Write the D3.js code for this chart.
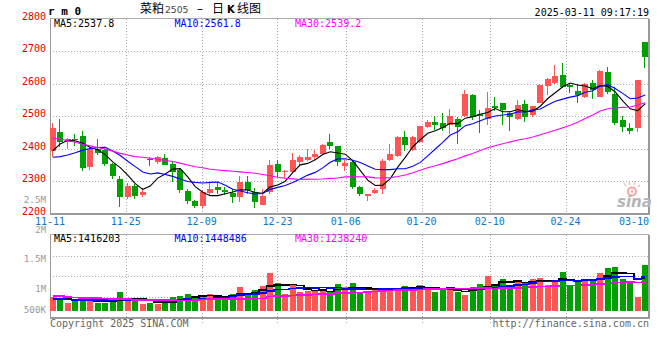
<!DOCTYPE html>
<html><head><meta charset="utf-8">
<script src="https://cdn.jsdelivr.net/npm/d3@7"></script>
<style>body{margin:0;background:#fff}svg{display:block}</style>
</head><body>
<svg id="c" width="660" height="360"></svg>
<script>
const dates = ["2024-11-11","2024-11-12","2024-11-13","2024-11-14","2024-11-15",
"2024-11-18","2024-11-19","2024-11-20","2024-11-21","2024-11-22",
"2024-11-25","2024-11-26","2024-11-27","2024-11-28","2024-11-29",
"2024-12-02","2024-12-03","2024-12-04","2024-12-05","2024-12-06",
"2024-12-09","2024-12-10","2024-12-11","2024-12-12","2024-12-13",
"2024-12-16","2024-12-17","2024-12-18","2024-12-19","2024-12-20",
"2024-12-23","2024-12-24","2024-12-25","2024-12-26","2024-12-27",
"2024-12-30","2024-12-31","2025-01-02","2025-01-03",
"2025-01-06","2025-01-07","2025-01-08","2025-01-09","2025-01-10",
"2025-01-13","2025-01-14","2025-01-15","2025-01-16","2025-01-17",
"2025-01-20","2025-01-21","2025-01-22","2025-01-23","2025-01-24",
"2025-01-27","2025-02-05","2025-02-06","2025-02-07",
"2025-02-10","2025-02-11","2025-02-12","2025-02-13","2025-02-14",
"2025-02-17","2025-02-18","2025-02-19","2025-02-20","2025-02-21",
"2025-02-24","2025-02-25","2025-02-26","2025-02-27","2025-02-28",
"2025-03-03","2025-03-04","2025-03-05","2025-03-06","2025-03-07",
"2025-03-10","2025-03-11"];

const opens = [2393,2452,2420,2430,2438,2344,2400,2395,2351,2307,
2252,2285,2257,2368,2360,2372,2353,2334,2270,2238,
2224,2262,2281,2271,2264,2252,2298,2267,2227,2265,
2353,2327,2327,2360,2365,2373,2383,2420,2408,2347,
2360,2283,2255,2262,2275,2365,2377,2434,2395,2421,
2465,2483,2477,2472,2490,2500,2565,2506,2492,2532,
2539,2510,2490,2536,2502,2540,2593,2602,2625,2595,
2577,2557,2602,2559,2636,2567,2487,2462,2462,2729];
const highs = [2477,2490,2433,2446,2455,2405,2429,2400,2354,2316,
2293,2291,2277,2375,2378,2383,2359,2339,2276,2243,
2271,2293,2296,2282,2274,2316,2316,2278,2276,2365,
2365,2334,2385,2380,2398,2395,2414,2444,2409,2365,
2361,2286,2261,2280,2368,2414,2438,2455,2437,2470,
2487,2500,2508,2521,2498,2579,2569,2520,2574,2559,
2539,2516,2549,2549,2530,2597,2617,2656,2664,2602,
2600,2602,2610,2643,2650,2588,2500,2477,2611,2729];
const lows = [2375,2404,2400,2408,2332,2334,2380,2347,2305,2219,
2244,2244,2250,2347,2352,2349,2298,2264,2229,2216,
2216,2254,2260,2256,2233,2234,2260,2218,2225,2261,
2312,2310,2325,2345,2363,2365,2380,2400,2346,2331,
2275,2254,2240,2260,2260,2363,2375,2393,2393,2416,
2462,2457,2455,2445,2414,2498,2487,2449,2472,2516,
2472,2455,2487,2483,2496,2540,2564,2600,2585,2571,
2539,2554,2552,2557,2569,2472,2452,2444,2452,2649];
const closes = [2464,2421,2428,2426,2341,2400,2387,2352,2314,2252,
2286,2255,2265,2364,2375,2350,2329,2273,2237,2224,
2265,2276,2273,2267,2251,2298,2273,2234,2255,2350,
2327,2331,2365,2375,2373,2382,2411,2409,2357,2354,
2283,2260,2260,2273,2361,2383,2436,2411,2436,2469,
2483,2473,2462,2500,2465,2567,2496,2500,2526,2526,
2518,2496,2533,2496,2530,2595,2615,2622,2588,2588,
2564,2600,2579,2639,2574,2477,2465,2455,2611,2682];
const volumes = [590000,500000,330000,400000,590000,430000,350000,350000,380000,820000,
490000,490000,290000,350000,290000,350000,590000,640000,710000,590000,
640000,710000,550000,550000,710000,1020000,760000,890000,1060000,1620000,
1180000,710000,1090000,800000,860000,850000,850000,800000,1150000,1020000,
1180000,740000,800000,890000,980000,980000,930000,1060000,980000,1100000,
930000,800000,870000,980000,800000,680000,1020000,1150000,1490000,1150000,
1360000,1020000,1320000,1230000,1360000,1400000,1100000,1320000,1660000,1100000,
1230000,1360000,1360000,1620000,1830000,1880000,1360000,1280000,590000,1960000];

// moving-average values for days before enough history exists
const ma5Head = [2393,2414,2425,2424];
const ma10Head = [2373,2375,2380,2387,2395,2400,2403,2404,2392];
const ma30Head = [2431,2429,2424,2419,2413,2408,2403,2398,2392,2385,2380,2375,2373,2370,2367,2363,2360,2355,2349,2344,2341,2336,2334,2332,2330,2328,2326,2324,2320];
const vma5Head = [520000,520000,500000,480000];
const vma10Head = [490000,490000,480000,470000,460000,460000,460000,460000,460000];
const vma30Head = [620000,620000,600000,560000,550000,550000,540000,520000,500000,500000,490000,470000,460000,460000,460000,450000,450000,440000,440000,460000,480000,490000,500000,500000,510000,510000,510000,520000,530000];

const priceTicks = [2200,2300,2400,2500,2600,2700,2800];
const volTicks = [500000,1000000,1500000,2000000,2500000];
const volTickLabels = ["500K","1M","1.5M","2M","2.5M"];
const dateTicks = ["2024-11-11","2024-11-25","2024-12-09","2024-12-23","2025-01-06","2025-01-20","2025-02-10","2025-02-24","2025-03-10"];
const maNames = ["MA5","MA10","MA30"];
const priceMaText = ["2537.8","2561.8","2539.2"];
const volMaText = ["1416203","1448486","1238240"];
const titleParts = ["菜粕","2505","–","日","K","线图"];
const stamp = "2025-03-11 09:17:19";

const RED = "#ff5555", GREEN = "#00a000";
const maColors = ["#000000","#0000ff","#ff00ff"];
const MONO = "'DejaVu Sans Mono', 'Liberation Mono', monospace";
const L = 50, R = 649, PT = 18.5, PB = 213.5, VT = 234.7, VB = 318;

function ma(vals, n, head){
  return vals.map((v,i)=> i < n-1 ? head[i] : d3.mean(vals.slice(i-n+1, i+1)));
}

const svg = d3.select("#c");
const x = d3.scaleBand().domain(dates).range([49, 649]);
const xc = d => x(d) + x.bandwidth()/2;
const xg = d3.scalePoint().domain(dates).range([L, R]);
const y = d3.scaleLinear().domain([2200, 2800]).range([PB, PT]);
const yv = d3.scaleLinear().domain([0, 3.26e6]).range([310.7, VT]);
const yvLab = d3.scaleLinear().domain([1e6, 2.5e6]).range([292, 203.3]);

const data = dates.map((d,i)=>({d, o:opens[i], h:highs[i], l:lows[i], c:closes[i], v:volumes[i]}));

// grids
const grid = svg.append("g").attr("stroke","#aaa").attr("stroke-dasharray","1,2").attr("shape-rendering","crispEdges");
priceTicks.filter(t=>t>2200 && t<2800).forEach(t=>{
  grid.append("line").attr("x1",L).attr("x2",R).attr("y1",Math.round(y(t))+0.5).attr("y2",Math.round(y(t))+0.5);
});
const midTicks = dateTicks.slice(1, -1);
midTicks.forEach(t=>{
  const gx = Math.round(xg(t))+0.5;
  grid.append("line").attr("x1",gx).attr("x2",gx).attr("y1",PT).attr("y2",PB);
  grid.append("line").attr("x1",gx).attr("x2",gx).attr("y1",VT).attr("y2",VB+5);
});
[1,2,3].forEach(k=>{
  const gy = Math.round(VT + k*(VB-VT)/4)+0.5;
  grid.append("line").attr("x1",L).attr("x2",R).attr("y1",gy).attr("y2",gy);
});

// borders
const bd = svg.append("g").attr("stroke","#999").attr("shape-rendering","crispEdges");
[[PT,PB],[VT,VB]].forEach(([t,b])=>{
  bd.append("line").attr("x1",L).attr("x2",R).attr("y1",t).attr("y2",t).attr("stroke","#aaa");
  bd.append("line").attr("x1",L+0.5).attr("x2",L+0.5).attr("y1",t).attr("y2",b);
  bd.append("line").attr("x1",R).attr("x2",R).attr("y1",t).attr("y2",b+1).attr("stroke-width",2);
  bd.append("line").attr("x1",L).attr("x2",R+1).attr("y1",b).attr("y2",b).attr("stroke-width",2);
});

// watermark
const wm = svg.append("g");
wm.append("circle").attr("cx",632).attr("cy",191.5).attr("r",4).attr("fill","none").attr("stroke","#f4a6a6").attr("stroke-width",2);
wm.append("circle").attr("cx",632).attr("cy",191.5).attr("r",1.3).attr("fill","#f4a6a6");
wm.append("path").attr("d","M626,186 L624,183 M630,185 L629,182 M634,185 L635,182 M638,187 L640,185").attr("stroke","#f4b6b6").attr("stroke-width",1.2);
wm.append("text").attr("x",617).attr("y",206.5).attr("font-family","'DejaVu Sans', sans-serif")
  .attr("font-size",15).attr("font-weight","bold").attr("font-style","italic").attr("fill","#b5b5b5").text("sina");

// candles
const cg = svg.append("g").attr("shape-rendering","crispEdges");
data.forEach(p=>{
  const col = p.c >= p.o ? RED : GREEN;
  const bx = Math.round(xc(p.d) - 3);
  cg.append("line").attr("x1",bx+2.5).attr("x2",bx+2.5).attr("y1",Math.round(y(p.h))).attr("y2",Math.round(y(p.l))).attr("stroke",col);
  const top = Math.round(y(Math.max(p.o,p.c)));
  const hgt = Math.max(1, Math.round(y(Math.min(p.o,p.c))) - top);
  cg.append("rect").attr("x",bx).attr("y",top).attr("width",6).attr("height",hgt).attr("fill",col);
});

// price MAs
const pMA = [ma(closes,5,ma5Head), ma(closes,10,ma10Head), ma(closes,30,ma30Head)];
pMA.forEach((arr,k)=>{
  svg.append("path").datum(arr).attr("fill","none").attr("stroke",maColors[k]).attr("stroke-width",1.1)
    .attr("d", d3.line().x((v,i)=>xc(dates[i])).y(v=>y(v)));
});

// volume bars
const vg = svg.append("g").attr("shape-rendering","crispEdges");
data.forEach(p=>{
  const col = p.c >= p.o ? RED : GREEN;
  const bx = Math.round(xc(p.d) - 3);
  const top = Math.round(yv(p.v));
  vg.append("rect").attr("x",bx).attr("y",top).attr("width",6).attr("height",Math.round(yv(0))-top).attr("fill",col);
});
const vMA = [ma(volumes,5,vma5Head), ma(volumes,10,vma10Head), ma(volumes,30,vma30Head)];
vMA.forEach((arr,k)=>{
  svg.append("path").datum(arr).attr("fill","none").attr("stroke",maColors[k]).attr("stroke-width",1.6)
    .attr("shape-rendering","crispEdges")
    .attr("d", d3.line().curve(d3.curveStep).x((v,i)=>xc(dates[i])).y(v=>yv(v)));
});

// texts
const T = svg.append("g").attr("font-family",MONO).attr("font-size",10);
priceTicks.forEach(t=>{
  T.append("text").attr("x",46).attr("y",y(t)+1).attr("text-anchor","end").attr("fill","#e00000").text(t);
});
volTicks.forEach((t,i)=>{
  const s = volTickLabels[i];
  T.append("text").attr("x",46).attr("y",Math.min(yvLab(t), 312.7)).attr("text-anchor","end")
    .attr("font-size",8.5).attr("textLength", s.length*5.75 - 0.8).attr("lengthAdjust","spacingAndGlyphs")
    .attr("fill","#999").text(s);
});
dateTicks.forEach(t=>{
  const lab = t.slice(5);
  let gx = xg(t), anchor = "middle";
  if (gx + 15 > R) { gx = R; anchor = "end"; }
  T.append("text").attr("x",gx).attr("y",224.5).attr("text-anchor",anchor).attr("fill","#0a78d0").text(lab);
});
const maX = [54, 174.5, 295];
maNames.forEach((n,k)=>{
  T.append("text").attr("x",maX[k]).attr("y",26.7).attr("fill",maColors[k]).text(n+":"+priceMaText[k]);
  T.append("text").attr("x",maX[k]).attr("y",242).attr("fill",maColors[k]).text(n+":"+volMaText[k]);
});
T.append("text").attr("x",R).attr("y",15.7).attr("text-anchor","end").attr("fill","#000").text(stamp);
T.append("text").attr("x",48).attr("y",15).attr("font-size",11).attr("font-weight","bold").attr("fill","#000").text("r m 0");
T.append("text").attr("x",50).attr("y",327).attr("fill","#666").text("Copyright 2025 SINA.COM");
T.append("text").attr("x",R).attr("y",327).attr("text-anchor","end").attr("fill","#666").text("http://finance.sina.com.cn");

// title
const tt = svg.append("text").attr("y",13).attr("fill","#000");
const CJK = "'Noto Sans CJK SC', sans-serif";
tt.append("tspan").attr("x",140).attr("font-family",CJK).attr("font-size",12).text(titleParts[0]);
tt.append("tspan").attr("x",165).attr("font-family","'DejaVu Sans', sans-serif").attr("font-size",9.2).attr("fill","#444").text(titleParts[1]);
tt.append("tspan").attr("x",197).attr("font-family","'DejaVu Sans', sans-serif").attr("font-size",12).text(titleParts[2]);
tt.append("tspan").attr("x",212).attr("font-family",CJK).attr("font-size",12).text(titleParts[3]);
tt.append("tspan").attr("x",227).attr("font-family","'DejaVu Sans', sans-serif").attr("font-weight","bold").attr("font-size",10).text(titleParts[4]);
tt.append("tspan").attr("x",237).attr("font-family",CJK).attr("font-size",12).text(titleParts[5]);
</script>
</body></html>
